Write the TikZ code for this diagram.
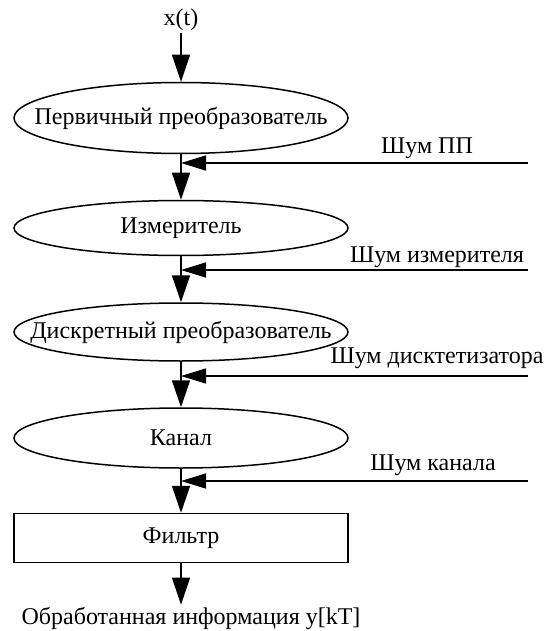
\documentclass[tikz,border=0pt]{standalone}
\usepackage{fontspec}
\setmainfont{Liberation Serif}
\usetikzlibrary{shapes.geometric,arrows.meta}
\begin{document}
\begin{tikzpicture}[x=1pt,y=-1pt,
  every node/.style={font=\fontsize{24}{28}\selectfont, inner sep=2pt},
  ell/.style={draw, line width=1.5pt, ellipse, minimum width=334pt, inner sep=0pt},
  rbox/.style={draw, line width=1.5pt, rectangle, minimum width=334pt, minimum height=49pt, inner sep=0pt},
  flow/.style={line width=1.5pt, -{Triangle[length=27pt,width=18pt]}},
  noise/.style={line width=1.5pt, -{Triangle[length=25pt,width=15pt]}}
]
\useasboundingbox (0,0) rectangle (548,631);
\node (xt) at (181,20) {x(t)};
\node[ell, minimum height=71pt] (e1) at (181,118) {\makebox[0pt]{Первичный преобразователь}};
\node[ell, minimum height=55pt] (e2) at (181,228) {\makebox[0pt]{Измеритель}};
\node[ell, minimum height=58pt] (e3) at (181,332) {\makebox[0pt]{Дискретный преобразователь}};
\node[ell, minimum height=60pt] (e4) at (181,438) {\makebox[0pt]{Канал}};
\node[rbox] (f) at (181,538) {Фильтр};
\node (out) at (191,618) {Обработанная информация y[kT]};

\node (n1) at (427,148) {Шум ПП};
\node (n2) at (437,257) {Шум измерителя};
\node (n3) at (437,358) {Шум дисктетизатора};
\node (n4) at (433,465) {Шум канала};
\coordinate (s1) at (528,163);
\coordinate (s2) at (528,270);
\coordinate (s3) at (528,376);
\coordinate (s4) at (528,481);

\draw[flow] (xt.south) -- (e1.north);
\draw[flow] (e1.south) -- (e2.north);
\draw[flow] (e2.south) -- (e3.north);
\draw[flow] (e3.south) -- (e4.north);
\draw[flow] (e4.south) -- (f.north);
\draw[flow] (f.south) -- (f.south |- out.north);

\draw[noise] (s1) -- (s1 -| e1.south);
\draw[noise] (s2) -- (s2 -| e2.south);
\draw[noise] (s3) -- (s3 -| e3.south);
\draw[noise] (s4) -- (s4 -| e4.south);
\end{tikzpicture}
\end{document}
